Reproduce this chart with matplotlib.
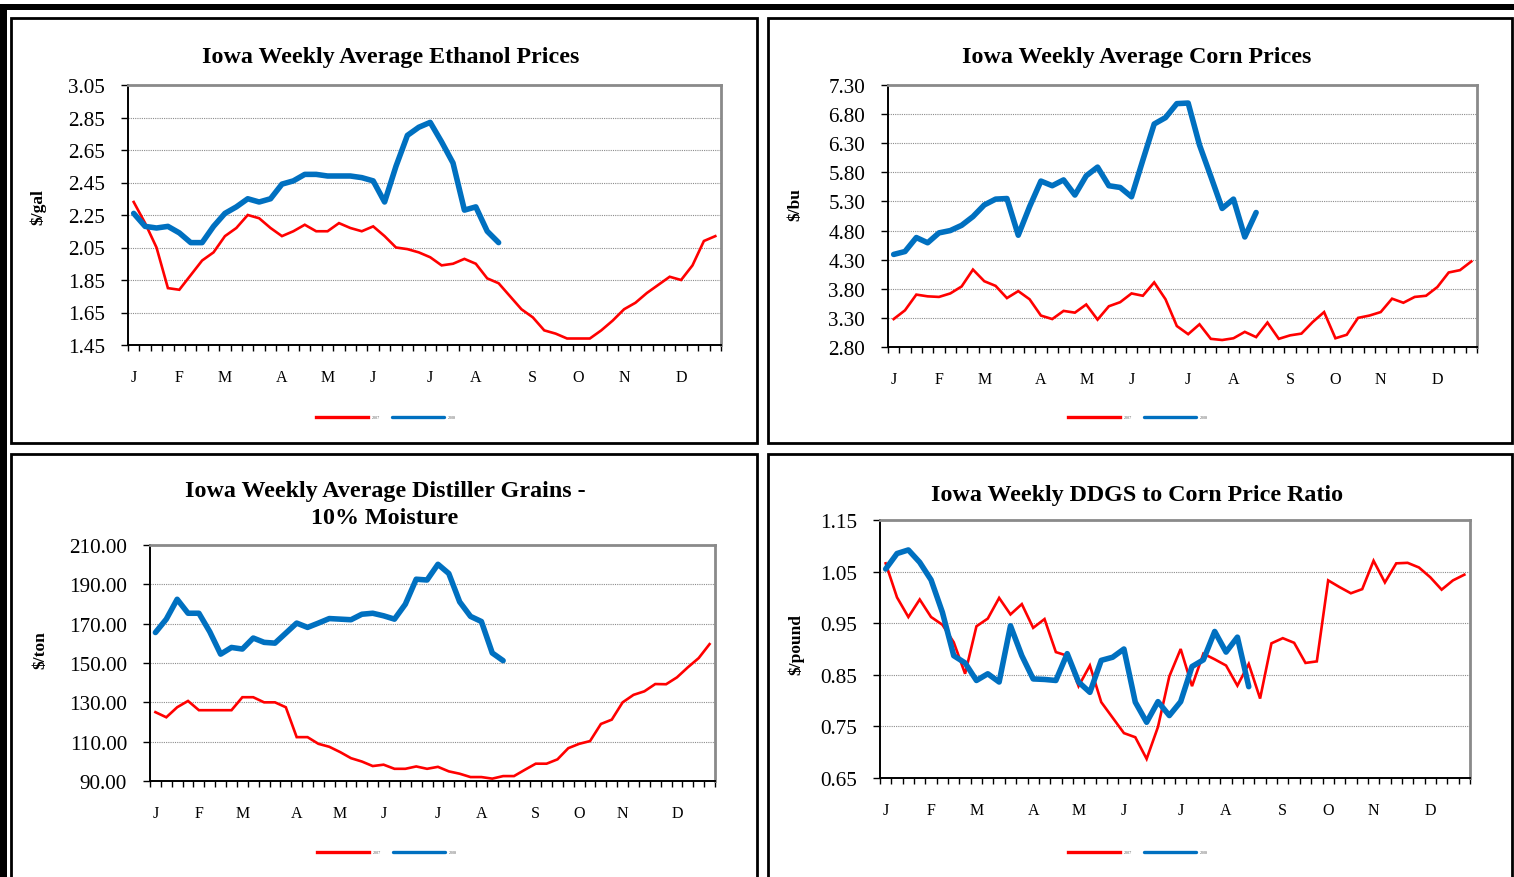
import matplotlib
matplotlib.use("Agg")
import matplotlib.pyplot as plt
from matplotlib.patches import Rectangle
import numpy as np

W, H = 1514, 878
plt.rcParams['font.family'] = ['Liberation Serif', 'DejaVu Serif']

# ---------------- data ----------------
month_labels = ["J", "F", "M", "A", "M", "J", "J", "A", "S", "O", "N", "D"]
month_weeks = [0, 4, 8, 13, 17, 21, 26, 30, 35, 39, 43, 48]
series_names = ["2007", "2008"]

ethanol_2007 = [2.33, 2.20, 2.05, 1.80, 1.79, 1.88, 1.97, 2.02, 2.12, 2.17, 2.25, 2.23,
                2.17, 2.12, 2.15, 2.19, 2.15, 2.15, 2.20, 2.17, 2.15, 2.18, 2.12, 2.05,
                2.04, 2.02, 1.99, 1.94, 1.95, 1.98, 1.95, 1.86, 1.83, 1.75, 1.67, 1.62,
                1.54, 1.52, 1.49, 1.49, 1.49, 1.54, 1.60, 1.67, 1.71, 1.77, 1.82, 1.87,
                1.85, 1.94, 2.09, 2.12]
ethanol_2008 = [2.26, 2.18, 2.17, 2.18, 2.14, 2.08, 2.08, 2.18, 2.26, 2.30, 2.35, 2.33,
                2.35, 2.44, 2.46, 2.50, 2.50, 2.49, 2.49, 2.49, 2.48, 2.46, 2.33, 2.55,
                2.74, 2.79, 2.82, 2.70, 2.57, 2.28, 2.30, 2.15, 2.08]

corn_2007 = [3.28, 3.43, 3.70, 3.67, 3.66, 3.72, 3.84, 4.13, 3.93, 3.85, 3.64, 3.76,
             3.62, 3.34, 3.28, 3.42, 3.39, 3.53, 3.27, 3.50, 3.57, 3.72, 3.68, 3.91,
             3.62, 3.16, 3.02, 3.19, 2.94, 2.92, 2.95, 3.06, 2.97, 3.22, 2.94, 3.00,
             3.03, 3.23, 3.40, 2.95, 3.01, 3.30, 3.34, 3.40, 3.63, 3.56, 3.66, 3.68,
             3.83, 4.08, 4.12, 4.27]
corn_2008 = [4.39, 4.44, 4.68, 4.59, 4.76, 4.80, 4.89, 5.04, 5.24, 5.34, 5.35, 4.72,
             5.21, 5.65, 5.57, 5.67, 5.41, 5.74, 5.89, 5.57, 5.54, 5.38, 6.01, 6.63,
             6.74, 6.98, 6.99, 6.27, 5.73, 5.18, 5.34, 4.69, 5.11]

ddgs_2007 = [125.0, 122.4, 127.5, 130.7, 126.0, 126.0, 126.0, 126.0, 132.6, 132.6,
             130.0, 130.0, 127.5, 112.3, 112.3, 108.9, 107.4, 104.7, 101.6, 99.9,
             97.6, 98.3, 96.2, 96.2, 97.4, 96.2, 97.2, 94.9, 93.7, 92.0, 92.0, 91.2,
             92.5, 92.5, 95.7, 98.8, 98.8, 101.0, 106.7, 108.9, 110.3, 119.0, 121.2,
             130.0, 133.8, 135.6, 139.3, 139.2, 142.7, 147.8, 152.5, 159.6]
ddgs_2008 = [165.5, 172.3, 182.4, 175.3, 175.3, 165.9, 154.5, 157.9, 157.1, 162.7,
             160.5, 160.1, 165.2, 170.3, 168.1, 170.3, 172.6, 172.3, 172.0, 174.8,
             175.3, 174.0, 172.3, 179.9, 192.6, 192.2, 200.2, 195.5, 181.1, 173.7,
             171.1, 155.1, 151.2]

ratio_2007 = [1.066, 1.000, 0.962, 0.996, 0.962, 0.947, 0.913, 0.852, 0.944, 0.959,
              0.999, 0.967, 0.987, 0.941, 0.958, 0.894, 0.887, 0.828, 0.868, 0.797,
              0.767, 0.737, 0.729, 0.687, 0.749, 0.847, 0.900, 0.828, 0.891, 0.880,
              0.868, 0.829, 0.871, 0.804, 0.911, 0.921, 0.912, 0.873, 0.876, 1.033,
              1.020, 1.008, 1.016, 1.071, 1.029, 1.066, 1.067, 1.058, 1.039, 1.015,
              1.033, 1.044]
ratio_2008 = [1.055, 1.085, 1.092, 1.068, 1.034, 0.971, 0.887, 0.873, 0.839, 0.852,
              0.836, 0.945, 0.887, 0.842, 0.841, 0.839, 0.891, 0.836, 0.816, 0.878,
              0.884, 0.900, 0.797, 0.758, 0.798, 0.771, 0.798, 0.866, 0.879, 0.934,
              0.894, 0.923, 0.827]

RED = "#FF0000"
BLUE = "#0070C0"

fig = plt.figure(figsize=(W / 100, H / 100), dpi=100)
fig.patch.set_facecolor("white")


def fx(x):
    return x / W


def fy(y):
    return 1 - y / H


def add_rect_px(x0, y0, x1, y1, **kw):
    r = Rectangle((fx(x0), fy(y1)), fx(x1) - fx(x0), fy(y0) - fy(y1),
                  transform=fig.transFigure, **kw)
    fig.add_artist(r)


# page decorations
add_rect_px(0, 5, W, 11, facecolor="black", edgecolor="none")
add_rect_px(0, 5, 7, H + 5, facecolor="black", edgecolor="none")
for (x0, y0, x1, y1) in [(11, 19, 757, 444), (768, 19, 1512, 444),
                         (11, 455, 757, H + 10), (768, 455, 1512, H + 10)]:
    add_rect_px(x0, y0, x1, y1, facecolor="none", edgecolor="black", linewidth=2.0)


def make_panel(box, ylim, yticks, s2007, s2008, title_lines, title_xy, ylabel, ylabel_xy, legend_xy):
    x0, y0, x1, y1 = box
    ax = fig.add_axes([fx(x0), fy(y1), fx(x1) - fx(x0), fy(y0) - fy(y1)])
    n = 52
    x07 = np.arange(len(s2007)) + 0.5
    x08 = np.arange(len(s2008)) + 0.5
    ax.plot(x07, s2007, color=RED, lw=1.9, label=series_names[0], solid_joinstyle="miter", zorder=3)
    ax.plot(x08, s2008, color=BLUE, lw=4.0, label=series_names[1], solid_joinstyle="round",
            solid_capstyle="round", zorder=4)
    ax.set_xlim(0, n)
    ax.set_ylim(*ylim)
    ax.set_yticks(yticks)
    ax.set_yticklabels([f"{v:.2f}" for v in yticks], fontsize=15.2)
    ax.set_xticks(np.array(month_weeks) + 0.5)
    ax.set_xticklabels(month_labels, fontsize=11.5)
    ax.set_xticks(np.arange(n + 1), minor=True)
    ax.tick_params(axis="x", which="major", length=0, pad=17.5)
    ax.tick_params(axis="x", which="minor", length=4, width=1, direction="out", color="black")
    ax.tick_params(axis="y", which="major", length=5, width=1, direction="out", color="black", pad=11.5)
    ax.yaxis.grid(True, linestyle=(0, (1, 1)), color="#8c8c8c", linewidth=0.8)
    ax.set_axisbelow(True)
    for s in ["top", "right"]:
        ax.spines[s].set_color("#8a8a8a")
        ax.spines[s].set_linewidth(2.0)
    for s in ["left", "bottom"]:
        ax.spines[s].set_color("black")
        ax.spines[s].set_linewidth(1.4)
    # title
    for k, t in enumerate(title_lines):
        fig.text(fx(title_xy[0]), fy(title_xy[1] + 27 * k), t, ha="center", va="center",
                 fontsize=17.3, fontweight="bold")
    fig.text(fx(ylabel_xy[0]), fy(ylabel_xy[1]), ylabel, rotation=90, ha="center", va="center",
             fontsize=12.5, fontweight="bold")
    leg = ax.legend(loc="center", bbox_to_anchor=(fx(legend_xy[0]), fy(legend_xy[1])),
                    bbox_transform=fig.transFigure, ncol=2, frameon=False, fontsize=3,
                    handlelength=12.5, handletextpad=1.0, columnspacing=2.8)
    for line in leg.get_lines():
        line.set_linewidth(2.4)
    for t in leg.get_texts():
        t.set_color("#555555")
    return ax


make_panel((128, 86, 721, 346), (1.45, 3.05), np.arange(1.45, 3.0501, 0.20),
           ethanol_2007, ethanol_2008, ["Iowa Weekly Average Ethanol Prices"], (391, 57),
           "$/gal", (38, 207), (386, 418))
make_panel((888, 86, 1477, 348), (2.80, 7.30), np.arange(2.80, 7.3001, 0.50),
           corn_2007, corn_2008, ["Iowa Weekly Average Corn Prices"], (1137, 57),
           "$/bu", (795, 205), (1138, 418))
make_panel((150, 546, 715, 782), (90, 210), np.arange(90, 210.01, 20),
           ddgs_2007, ddgs_2008, ["Iowa Weekly Average Distiller Grains -", "10% Moisture"], (385, 492),
           "$/ton", (40, 650), (387, 853))
make_panel((880, 521, 1470, 779), (0.65, 1.15), np.arange(0.65, 1.1501, 0.10),
           ratio_2007, ratio_2008, ["Iowa Weekly DDGS to Corn Price Ratio"], (1137, 495),
           "$/pound", (796, 645), (1138, 853))

fig.savefig("out.png", dpi=100)
